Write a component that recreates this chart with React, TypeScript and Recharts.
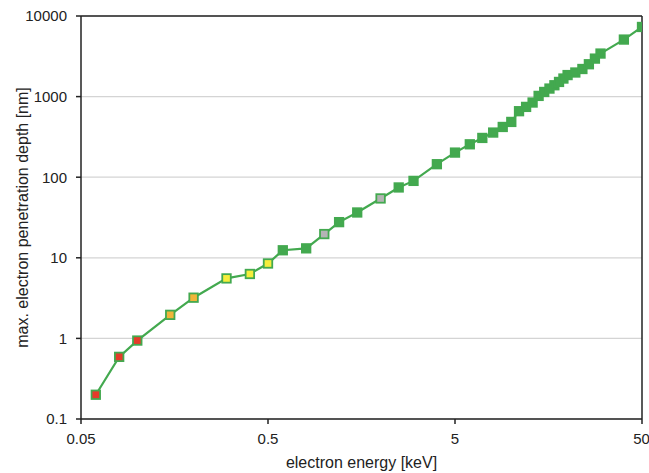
import { LineChart, Line, XAxis, YAxis, CartesianGrid, ReferenceLine } from 'recharts';

// electron energy [keV]
const energy = [
  0.06, 0.08, 0.1, 0.15, 0.2, 0.3, 0.4, 0.5, 0.6, 0.8, 1, 1.2, 1.5, 2, 2.5, 3, 4, 5, 6, 7,
  8, 9, 10, 11, 12, 13, 14, 15, 16, 17, 18, 19, 20, 22, 24, 26, 28, 30, 40, 50,
];

// max. penetration depth [nm]
const depth = [
  0.2, 0.59, 0.94, 1.96, 3.2, 5.55, 6.3, 8.5, 12.4, 13.1, 19.7, 27.7, 36.5, 54.5, 74.6, 90, 145, 202, 256, 307,
  358, 420, 485, 659, 745, 844, 1020, 1142, 1258, 1383, 1520, 1675, 1850, 1990, 2200, 2520, 2960, 3420, 5100, 7310,
];

const xTicks = [0.05, 0.5, 5, 50];
const yTicks = [0.1, 1, 10, 100, 1000, 10000];

const GREEN = '#43a94f';
const RED = '#e53b2a';
const ORANGE = '#f1b53a';
const YELLOW = '#f6ee3c';
const GRAY = '#b4b4b4';

// marker fill per point
const markerFill = [
  RED, RED, RED, ORANGE, ORANGE, YELLOW, YELLOW, YELLOW, GREEN, GREEN,
  GRAY, GREEN, GREEN, GRAY,
];

const data = energy.map((e, i) => ({ energy: e, depth: depth[i] }));

const font = 'Liberation Sans, Arial, sans-serif';

function SquareDot(props: any) {
  const { cx, cy, index } = props;
  if (cx == null || cy == null) return null;
  const s = 8.5;
  return (
    <rect
      key={`dot-${index}`}
      x={cx - s / 2}
      y={cy - s / 2}
      width={s}
      height={s}
      fill={markerFill[index] ?? GREEN}
      stroke={GREEN}
      strokeWidth={1.8}
    />
  );
}

export default function App() {
  return (
    <div style={{ position: 'absolute', left: 0, top: 0, background: '#fff' }}>
      <LineChart
        width={649}
        height={473}
        data={data}
        margin={{ top: 16, right: 7, bottom: 0, left: 0 }}
        style={{ fontFamily: font }}
      >
        <CartesianGrid horizontal vertical={false} stroke="#d4d4d4" strokeWidth={1.2} />
        <XAxis
          dataKey="energy"
          type="number"
          scale="log"
          domain={[0.05, 50]}
          ticks={xTicks}
          allowDataOverflow
          height={54}
          tickSize={5}
          tickMargin={9}
          stroke="#222"
          strokeWidth={1.5}
          tick={{ fill: '#222', fontSize: 15 }}
          label={{ value: 'electron energy [keV]', position: 'insideBottom', offset: 5, fill: '#222', fontSize: 16 }}
        />
        <YAxis
          type="number"
          scale="log"
          domain={[0.1, 10000]}
          ticks={yTicks}
          allowDataOverflow
          width={81}
          tickSize={5}
          tickMargin={9}
          stroke="#222"
          strokeWidth={1.5}
          tick={{ fill: '#222', fontSize: 15 }}
          label={{
            value: 'max. electron penetration depth [nm]',
            angle: -90,
            position: 'insideLeft',
            offset: 22,
            fill: '#222',
            fontSize: 16,
            style: { textAnchor: 'middle' },
          }}
        />
        <ReferenceLine y={10000} stroke="#222" strokeWidth={1.5} />
        <ReferenceLine x={50} stroke="#222" strokeWidth={1.5} />
        <Line
          dataKey="depth"
          type="linear"
          stroke={GREEN}
          strokeWidth={2.2}
          dot={SquareDot}
          activeDot={false}
          isAnimationActive={false}
        />
      </LineChart>
    </div>
  );
}
